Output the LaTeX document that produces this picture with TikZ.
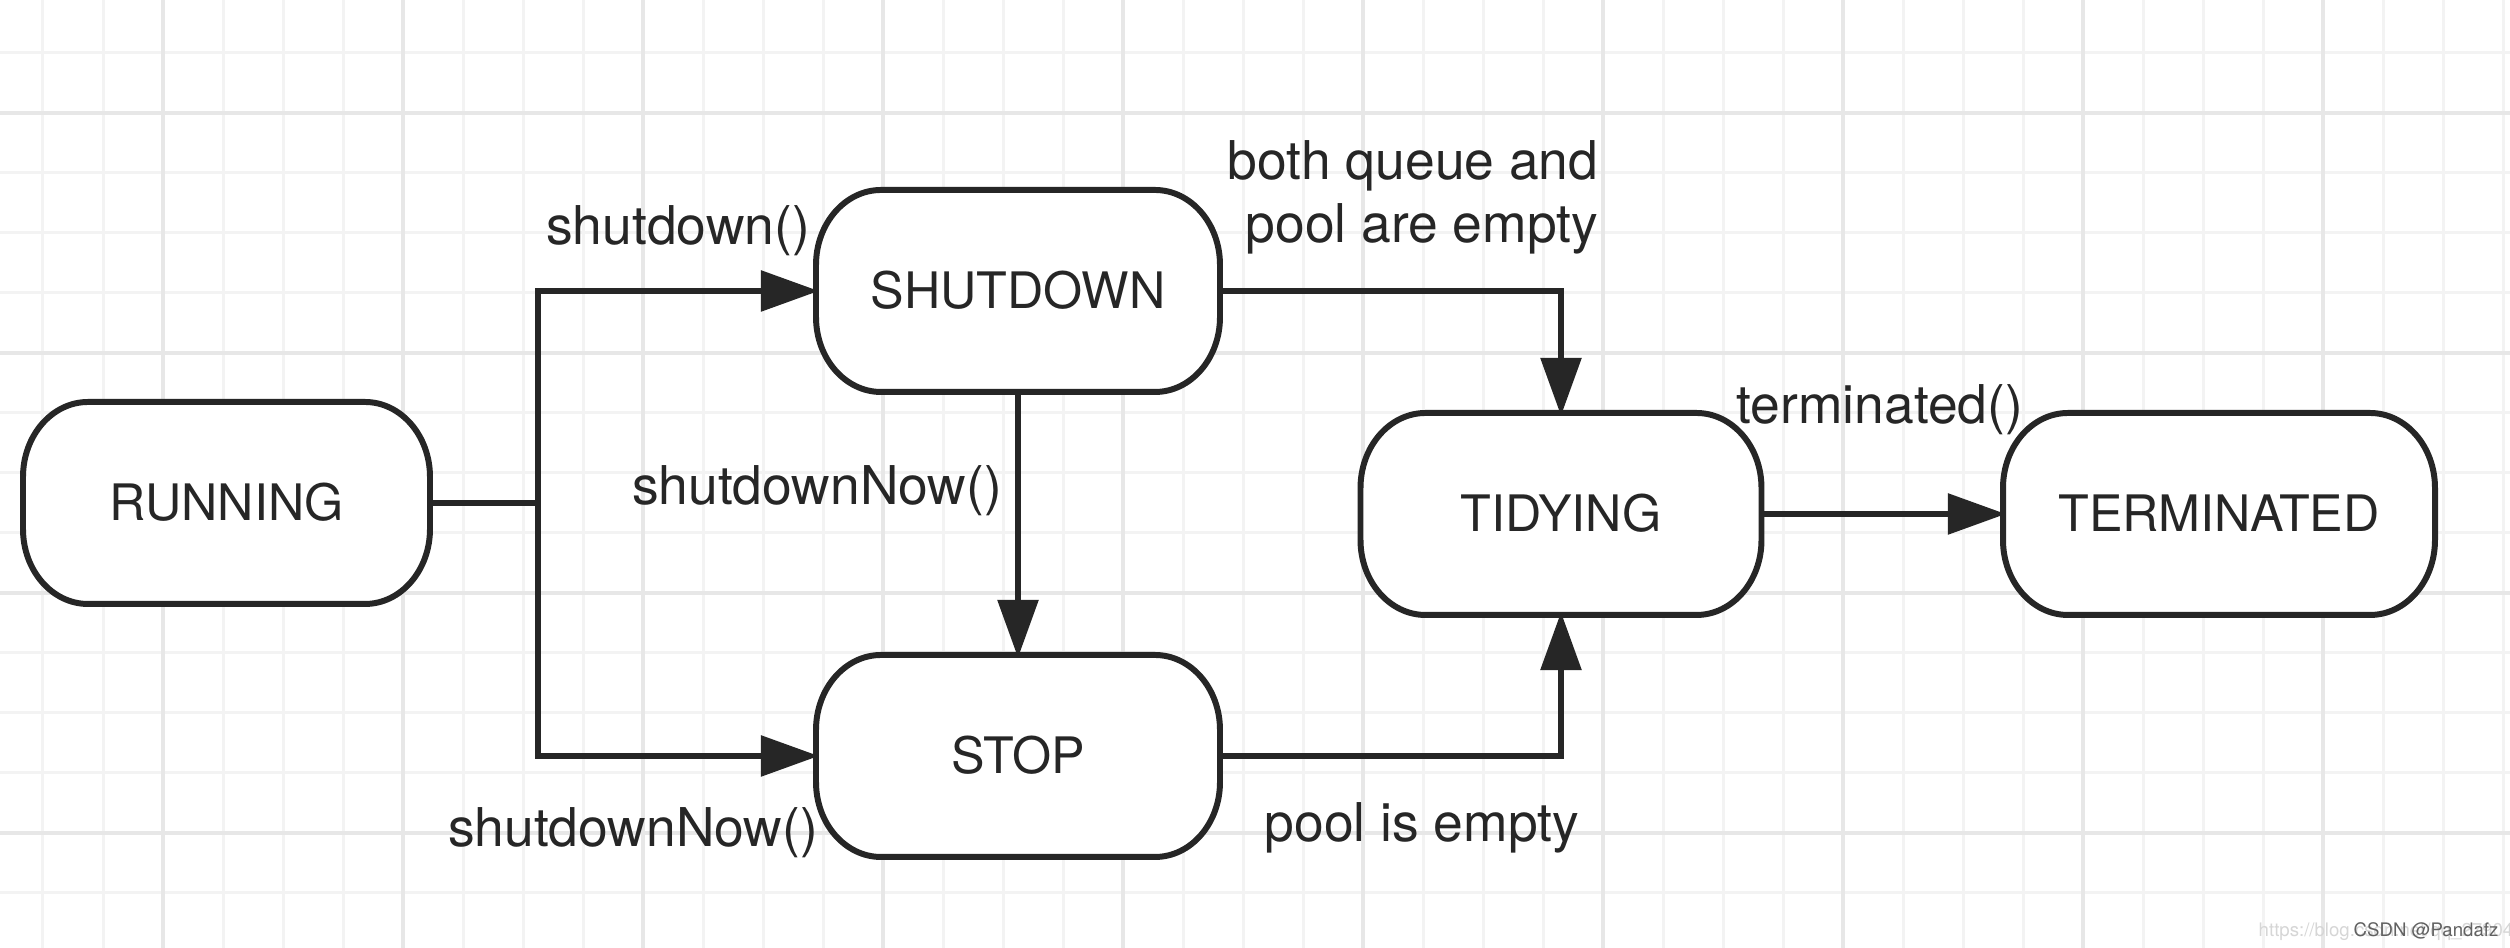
\documentclass[tikz,border=0pt]{standalone}
\usepackage{fontspec}
\setmainfont{TeX Gyre Heros}
\usetikzlibrary{arrows.meta,backgrounds,calc}
\definecolor{ink}{HTML}{262626}
\definecolor{gridminor}{HTML}{F3F3F3}
\definecolor{gridmajor}{HTML}{E7E7E7}
\newcommand\stateoutline[1]{%
  \draw[boxline] ([xshift=0.65cm]#1.north west) -- ([xshift=-0.65cm]#1.north east)
    arc[start angle=90,end angle=0,x radius=0.65cm,y radius=0.75cm]
    -- ([yshift=0.75cm]#1.south east)
    arc[start angle=0,end angle=-90,x radius=0.65cm,y radius=0.75cm]
    -- ([xshift=0.65cm]#1.south west)
    arc[start angle=270,end angle=180,x radius=0.65cm,y radius=0.75cm]
    -- ([yshift=-0.75cm]#1.north west)
    arc[start angle=180,end angle=90,x radius=0.65cm,y radius=0.75cm] -- cycle;}
\tikzset{
  statebox/.style={inner sep=0pt, outer sep=0pt, minimum height=2.02cm,
    text height=0.36cm, text depth=0pt, text=ink,
    font=\fontsize{14.3}{17}\selectfont},
  boxline/.style={draw=ink, line width=1.7pt, fill=white},
  conn/.style={draw=ink, line width=1.7pt},
  arrowconn/.style={conn, -{Triangle[length=0.58cm,width=0.40cm]}, shorten >=-0.8pt},
  lbl/.style={inner sep=0pt, outer sep=0pt, anchor=base, text=ink,
    font=\fontsize{15.2}{17.9}\selectfont},
}
\begin{document}
\begin{tikzpicture}
\useasboundingbox (0,0) rectangle (25.10,9.48);

% states
\node[statebox, minimum width=4.07cm] (run)  at (2.265,4.45) {RUNNING};
\node[statebox, minimum width=4.04cm] (shut) at (10.18,6.57) {SHUTDOWN};
\node[statebox, minimum width=4.04cm] (stop) at (10.18,1.92) {STOP};
\node[statebox, minimum width=4.01cm] (tidy) at (15.61,4.34) {TIDYING};
\node[statebox, minimum width=4.32cm] (term) at (22.19,4.34) {TERMINATED};

\begin{scope}[on background layer]
  \fill[white] (0,0) rectangle (25.10,9.48);
  \foreach \k in {0,...,41} \draw[gridminor, line width=0.03cm] ({0.43+0.6*\k},0) -- ({0.43+0.6*\k},9.48);
  \foreach \k in {0,...,14} \draw[gridminor, line width=0.03cm] (0,{8.95-0.6*\k}) -- (25.10,{8.95-0.6*\k});
  \foreach \k in {0,...,9} \draw[gridmajor, line width=0.04cm] ({1.63+2.4*\k},0) -- ({1.63+2.4*\k},9.48);
  \foreach \y in {8.35,5.95,3.55,1.15} \draw[gridmajor, line width=0.04cm] (0,\y) -- (25.10,\y);
  \stateoutline{run}
  \stateoutline{shut}
  \stateoutline{stop}
  \stateoutline{tidy}
  \stateoutline{term}
\end{scope}

% connectors
\coordinate (j) at (5.38,4.45);
\draw[conn] (run.east) -- (j);
\draw[arrowconn] (j) |- (shut.west);
\draw[arrowconn] (j) |- (stop.west);
\draw[arrowconn] (shut.south) -- (stop.north);
\draw[arrowconn] (shut.east) -| (tidy.north);
\draw[arrowconn] (stop.east) -| (tidy.south);
\draw[arrowconn] (tidy.east) -- (term.west);

% labels
\node[lbl] (l1) at (6.78,7.03) {shutdown()};
\node[lbl] (l2a) at (14.13,7.68) {both queue and};
\node[lbl] (l2b) at (14.22,7.05) {pool are empty};
\node[lbl] (l3) at (8.17,4.43) {shutdownNow()};
\node[lbl] (l4) at (6.33,1.01) {shutdownNow()};
\node[lbl] (l5) at (14.22,1.06) {pool is empty};
\node[lbl] (l6) at (18.80,5.24) {terminated()};

% watermark
\node[inner sep=0pt, anchor=base west, text=black!16, font=\fontsize{5.3}{6}\selectfont] (wm1) at (22.58,0.11) {https://blog.csdn.net/qq\_27904};
\node[inner sep=0pt, anchor=base west, text=black!62, font=\fontsize{5.3}{6}\selectfont] (wm2) at (23.53,0.11) {CSDN @Pandafz};
\end{tikzpicture}
\end{document}
